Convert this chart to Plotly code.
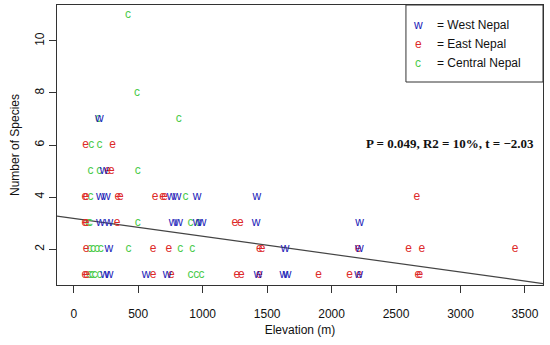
import plotly.graph_objects as go

# West Nepal (w)
west_elev = [240, 275, 561, 724, 1429, 1630, 1655, 2209,
             272, 1640, 2215,
             207, 272, 770, 814, 956, 995, 1414, 2217,
             207, 253, 755, 801, 956, 1421,
             235,
             199]
west_species = [1, 1, 1, 1, 1, 1, 1, 1,
                2, 2, 2,
                3, 3, 3, 3, 3, 3, 3, 3,
                4, 4, 4, 4, 4, 4,
                5,
                7]

# East Nepal (e)
east_elev = [85, 100, 615, 757, 1266, 1300, 1440, 1899, 2140, 2215, 2670, 2685,
             95, 615, 737, 1440, 1460, 2205, 2597, 2700, 3424,
             85, 95, 336, 1250, 1292,
             85, 95, 341, 362, 630, 690, 705, 2662,
             265, 292,
             91, 302]
east_species = [1] * 12 + [2] * 9 + [3] * 5 + [4] * 8 + [5] * 2 + [6] * 2

# Central Nepal (c)
central_elev = [120, 140, 160, 200, 905, 950, 990,
                125, 150, 180, 210, 424, 827, 920,
                110, 125, 496, 905, 965,
                130, 866,
                130, 197, 496,
                135, 199,
                190, 814,
                491,
                421]
central_species = [1] * 7 + [2] * 7 + [3] * 5 + [4] * 2 + [5] * 3 + [6] * 2 + [7] * 2 + [8] + [11]

# Regression fit
fit_intercept = 3.18
fit_slope = -0.000688

x_range = [-130, 3640]
y_range = [0.62, 11.38]
x_ticks = [0, 500, 1000, 1500, 2000, 2500, 3000, 3500]
y_ticks = [2, 4, 6, 8, 10]

col_w = "#2323B8"
col_e = "#DD2A2A"
col_c = "#4CCB4C"

fig = go.Figure()

fig.add_trace(go.Scatter(
    x=x_range, y=[fit_intercept + fit_slope * v for v in x_range],
    mode="lines", line=dict(color="#444444", width=1.2),
    hoverinfo="skip", showlegend=False))

for xs, ys, letter, col in [(central_elev, central_species, "c", col_c),
                            (east_elev, east_species, "e", col_e),
                            (west_elev, west_species, "w", col_w)]:
    fig.add_trace(go.Scatter(
        x=xs, y=ys, mode="text", text=[letter] * len(xs),
        textposition="middle center",
        textfont=dict(family="Liberation Sans, Arial", size=12, color=col),
        showlegend=False))

axis_common = dict(showline=True, linecolor="#333333", linewidth=1.2, mirror=True,
                   ticks="outside", ticklen=7, tickwidth=1, tickcolor="#333333",
                   showgrid=False, zeroline=False,
                   tickfont=dict(family="Liberation Sans, Arial", size=12, color="#111111"))

fig.update_xaxes(range=x_range, tickvals=x_ticks, ticklabelstandoff=10, **axis_common,
                 title=dict(text="Elevation (m)", standoff=6,
                            font=dict(family="Liberation Sans, Arial", size=12, color="#111111")))
fig.update_yaxes(range=y_range, tickvals=y_ticks, tickangle=-90, **axis_common,
                 title=dict(text="Number of Species", standoff=10,
                            font=dict(family="Liberation Sans, Arial", size=12, color="#111111")))

# Legend box
fig.add_shape(type="rect", xref="paper", yref="paper", x0=0.718, x1=1.0, y0=0.725, y1=1.0,
              line=dict(color="#333333", width=1), fillcolor="white", layer="above")
legend_items = [("w", "= West Nepal", col_w), ("e", "= East Nepal", col_e), ("c", "= Central Nepal", col_c)]
legend_y = [0.929, 0.861, 0.793]
for (sym, lab, col), yy in zip(legend_items, legend_y):
    fig.add_annotation(xref="paper", yref="paper", x=0.743, y=yy, text=sym, showarrow=False,
                       xanchor="center", yanchor="middle",
                       font=dict(family="Liberation Sans, Arial", size=12, color=col))
    fig.add_annotation(xref="paper", yref="paper", x=0.778, y=yy, text=lab, showarrow=False,
                       xanchor="left", yanchor="middle",
                       font=dict(family="Liberation Sans, Arial", size=12, color="#111111"))

fig.add_annotation(x=2920, y=6.05, text="<b>P = 0.049, R2 = 10%, t = \u22122.03</b>", showarrow=False,
                   xanchor="center", yanchor="middle",
                   font=dict(family="Liberation Serif, Times New Roman", size=13, color="#111111"))

fig.update_layout(width=550, height=345, margin=dict(l=57, r=7, t=5, b=60),
                  plot_bgcolor="white", paper_bgcolor="white")

fig.write_html("out.html")
